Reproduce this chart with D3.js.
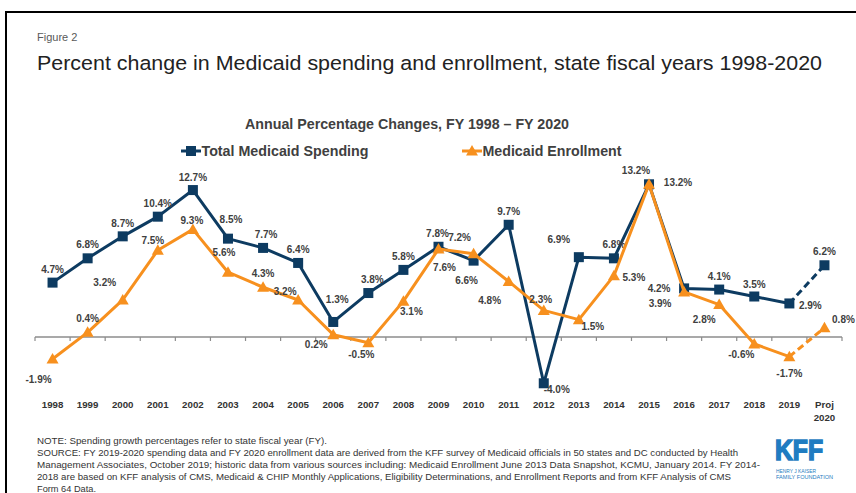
<!DOCTYPE html>
<html><head><meta charset="utf-8">
<script src="https://cdn.jsdelivr.net/npm/d3@7"></script>
<style>
body{margin:0;background:#fff;}
svg{display:block;font-family:"Liberation Sans",Arial,sans-serif;}
</style></head><body>
<svg id="c" width="856" height="493"></svg>
<script>
// ---- data ----
const years = ["1998","1999","2000","2001","2002","2003","2004","2005","2006","2007","2008","2009","2010","2011","2012","2013","2014","2015","2016","2017","2018","2019","Proj 2020"];
const spending = [4.7,6.8,8.7,10.4,12.7,8.5,7.7,6.4,1.3,3.8,5.8,7.8,6.6,9.7,-4.0,6.9,6.8,13.2,4.2,4.1,3.5,2.9,6.2];
const enrollment = [-1.9,0.4,3.2,7.5,9.3,5.6,4.3,3.2,0.2,-0.5,3.1,7.6,7.2,4.8,2.3,1.5,5.3,13.2,3.9,2.8,-0.6,-1.7,0.8];
const seriesNames = ["Total Medicaid Spending","Medicaid Enrollment"];
// label placement offsets (label centre relative to point), px
const spendLabelOffset = [[0,-13],[0,-14],[0,-13],[0,-13],[0,-13],[3,-19],[3,-14],[0,-14],[4,-23],[4,-14],[0,-13],[-1,-13],[-7,20],[0,-13],[13,6],[-20,-18],[0,-14],[-13,-14],[-25,0],[0,-13],[0,-12],[21,2],[0,-14]];
const enrollLabelOffset = [[-14,20],[0,-14],[-18,-18],[-5,-10],[-1,-9],[-4,-20],[0,-14],[-13,-9],[-17,10],[-7,12],[8,10],[6,18],[-14,-16],[-19,19],[-3,-11],[14,7],[20,2],[29,-2],[-24,12],[-15,15],[-13,10],[0,17],[19,-8]];
const footerLines = [
 "NOTE: Spending growth percentages refer to state fiscal year (FY).",
 "SOURCE: FY 2019-2020 spending data and FY 2020 enrollment data are derived from the KFF survey of Medicaid officials in 50 states and DC conducted by Health",
 "Management Associates, October 2019; historic data from various sources including:  Medicaid Enrollment June 2013 Data Snapshot, KCMU, January 2014. FY 2014-",
 "2018 are based on KFF analysis of CMS, Medicaid & CHIP Monthly Applications, Eligibility Determinations, and Enrollment Reports and from KFF Analysis of CMS",
 "Form 64 Data."
];
const footerWidths = [290, 701, 723, 694, 59];

// ---- drawing ----
const NAVY = "#0d3b61", ORANGE = "#f7901e", LABEL = "#404040";
const svg = d3.select("#c");
svg.append("rect").attr("width",856).attr("height",493).attr("fill","#fff");
svg.append("rect").attr("x",6).attr("y",12).attr("width",900).attr("height",600)
  .attr("fill","none").attr("stroke","#000").attr("stroke-width",2);

svg.append("text").attr("x",37).attr("y",41).attr("font-size",11).attr("fill","#595959").text("Figure 2");
svg.append("text").attr("x",37).attr("y",70).attr("font-size",20.5).attr("fill","#222")
  .attr("textLength",785).attr("lengthAdjust","spacingAndGlyphs")
  .text("Percent change in Medicaid spending and enrollment, state fiscal years 1998-2020");

svg.append("text").attr("x",245).attr("y",129)
  .attr("font-size",14).attr("font-weight","bold").attr("fill",LABEL)
  .attr("textLength",324).attr("lengthAdjust","spacingAndGlyphs")
  .text("Annual Percentage Changes, FY 1998 \u2013 FY 2020");

const x = d3.scaleBand().domain(years).range([35,842]).padding(0);
const y = d3.scaleLinear().domain([-5,15]).range([394.85,163.45]);
const cx = d => x(d) + x.bandwidth()/2;

// axis
const axisG = svg.append("g").attr("transform",`translate(0,${y(0)})`);
axisG.append("line").attr("x1",x.range()[0]).attr("x2",x.range()[1]).attr("stroke","#8c8c8c").attr("stroke-width",1.5);
axisG.selectAll("line.tk").data(d3.range(years.length+1)).join("line").attr("class","tk")
  .attr("x1",i=>x.range()[0]+i*x.step()).attr("x2",i=>x.range()[0]+i*x.step())
  .attr("y1",0).attr("y2",4).attr("stroke","#8c8c8c").attr("stroke-width",1.2);

// year labels
const yl = svg.append("g").attr("font-size",9.7).attr("font-weight","bold").attr("fill","#333").attr("text-anchor","middle");
years.forEach(yr => {
  const parts = yr.split(" ");
  parts.forEach((p,j)=> yl.append("text").attr("x",cx(yr)).attr("y",408 + j*12.5).text(p));
});

function drawSeries(vals, color, marker, offsets){
  const pts = vals.map((v,i)=>({x:cx(years[i]), y:y(v), v, i}));
  const line = d3.line().x(d=>d.x).y(d=>d.y);
  const n = pts.length;
  svg.append("path").attr("d",line(pts.slice(0,n-1))).attr("fill","none")
    .attr("stroke",color).attr("stroke-width",3).attr("stroke-linejoin","round");
  svg.append("path").attr("d",line(pts.slice(n-2))).attr("fill","none")
    .attr("stroke",color).attr("stroke-width",3).attr("stroke-dasharray","7,4");
  const g = svg.append("g");
  pts.forEach(p=>{
    if(marker==="square"){
      g.append("rect").attr("x",p.x-5).attr("y",p.y-5).attr("width",10).attr("height",10).attr("fill",color);
    } else {
      g.append("path").attr("d",`M${p.x},${p.y-6}L${p.x+6},${p.y+4.5}L${p.x-6},${p.y+4.5}Z`).attr("fill",color);
    }
  });
  const lg = svg.append("g").attr("font-size",10).attr("font-weight","bold").attr("fill",LABEL).attr("text-anchor","middle");
  pts.forEach(p=>{
    const o = offsets[p.i];
    lg.append("text").attr("x",p.x+o[0]).attr("y",p.y+o[1]+3.6).text(p.v.toFixed(1)+"%");
  });
}
drawSeries(spending, NAVY, "square", spendLabelOffset);
drawSeries(enrollment, ORANGE, "triangle", enrollLabelOffset);

// legend
const leg = svg.append("g");
[[181,NAVY,"square",seriesNames[0],167],[462,ORANGE,"triangle",seriesNames[1],139]].forEach(([lx,col,mk,name,w])=>{
  const ly = 151;
  leg.append("line").attr("x1",lx).attr("x2",lx+20).attr("y1",ly).attr("y2",ly).attr("stroke",col).attr("stroke-width",3);
  const mx = lx+10;
  if(mk==="square") leg.append("rect").attr("x",mx-5).attr("y",ly-5).attr("width",10).attr("height",10).attr("fill",col);
  else leg.append("path").attr("d",`M${mx},${ly-6}L${mx+6},${ly+4.5}L${mx-6},${ly+4.5}Z`).attr("fill",col);
  leg.append("text").attr("x",lx+20.5).attr("y",ly+5).attr("font-size",14.2).attr("font-weight","bold").attr("fill",LABEL)
    .attr("textLength",w).attr("lengthAdjust","spacingAndGlyphs").text(name);
});

// footer
const ft = svg.append("g").attr("font-size",9.3).attr("fill","#333");
footerLines.forEach((t,i)=>{
  ft.append("text").attr("x",37).attr("y",444+i*12).attr("textLength",footerWidths[i]).attr("lengthAdjust","spacingAndGlyphs").text(t);
});

// KFF logo
const logo = svg.append("g").attr("fill","#1f7cc1");
logo.append("text").attr("x",775).attr("y",460).attr("font-size",29).attr("font-weight","bold")
  .attr("stroke","#1f7cc1").attr("stroke-width",1.6)
  .attr("textLength",48).attr("lengthAdjust","spacingAndGlyphs").text("KFF");
logo.append("text").attr("x",776).attr("y",472.5).attr("font-size",5.5)
  .attr("textLength",40).attr("lengthAdjust","spacingAndGlyphs").text("HENRY J KAISER");
logo.append("text").attr("x",776).attr("y",479).attr("font-size",5.5)
  .attr("textLength",57).attr("lengthAdjust","spacingAndGlyphs").text("FAMILY FOUNDATION");
</script>
</body></html>
